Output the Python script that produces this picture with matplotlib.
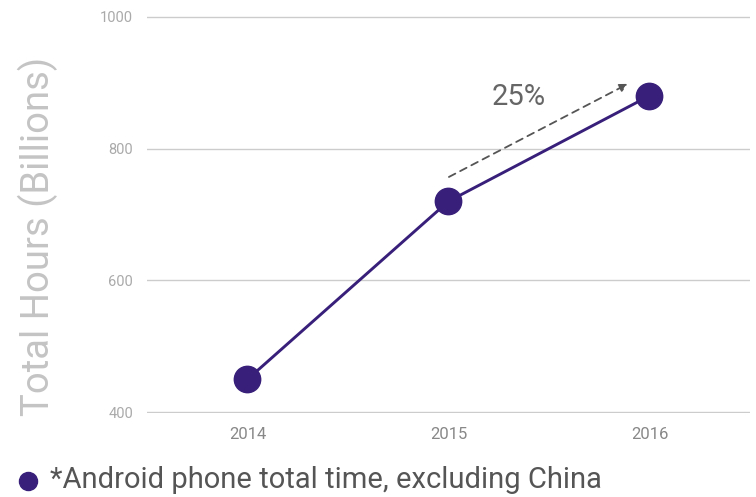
import matplotlib.pyplot as plt

plt.rcParams['font.family'] = ['Roboto', 'DejaVu Sans']

years = [2014, 2015, 2016]
hours = [450, 720, 880]
y_ticks = [400, 600, 800, 1000]
growth_label = '25%'
legend_label = '*Android phone total time, excluding China'

purple = '#38207a'

fig = plt.figure(figsize=(7.56, 4.97), dpi=100)
ax = fig.add_axes([0.1944, 0.169, 0.7976, 0.7988])

ax.plot(years, hours, color=purple, lw=2.1, marker='o', markersize=19, zorder=3)

# growth arrow between 2015 and 2016
ax.annotate('', xy=(2015.905, 900), xytext=(2014.99, 755),
            arrowprops=dict(arrowstyle='-|>', color='#555555', lw=1.3,
                            linestyle=(0, (4, 3)), mutation_scale=12))
ax.text(2015.35, 878, growth_label, ha='center', va='center', fontsize=21, color='#666666')

ax.set_xlim(2013.5, 2016.5)
ax.set_ylim(399, 1001)
ax.set_yticks(y_ticks)
ax.set_xticks(years)
ax.grid(axis='y', color='#cccccc', lw=1)
ax.set_axisbelow(True)
for s in ax.spines.values():
    s.set_visible(False)
ax.tick_params(axis='y', length=0, pad=10, labelsize=10.5, labelcolor='#aaaaaa')
ax.tick_params(axis='x', length=0, pad=10, labelsize=12, labelcolor='#888888')

fig.text(0.05, 0.525, 'Total Hours (Billions)', rotation=90, ha='center', va='center',
         fontsize=27.5, color='#c4c4c4')

# legend row at the bottom
fig.add_artist(plt.Line2D([0.037], [0.032], color=purple, marker='o', markersize=13,
                          linestyle='none', transform=fig.transFigure))
fig.text(0.066, 0.034, legend_label, ha='left', va='center', fontsize=21, color='#555555')

fig.savefig('out.png', dpi=100)
